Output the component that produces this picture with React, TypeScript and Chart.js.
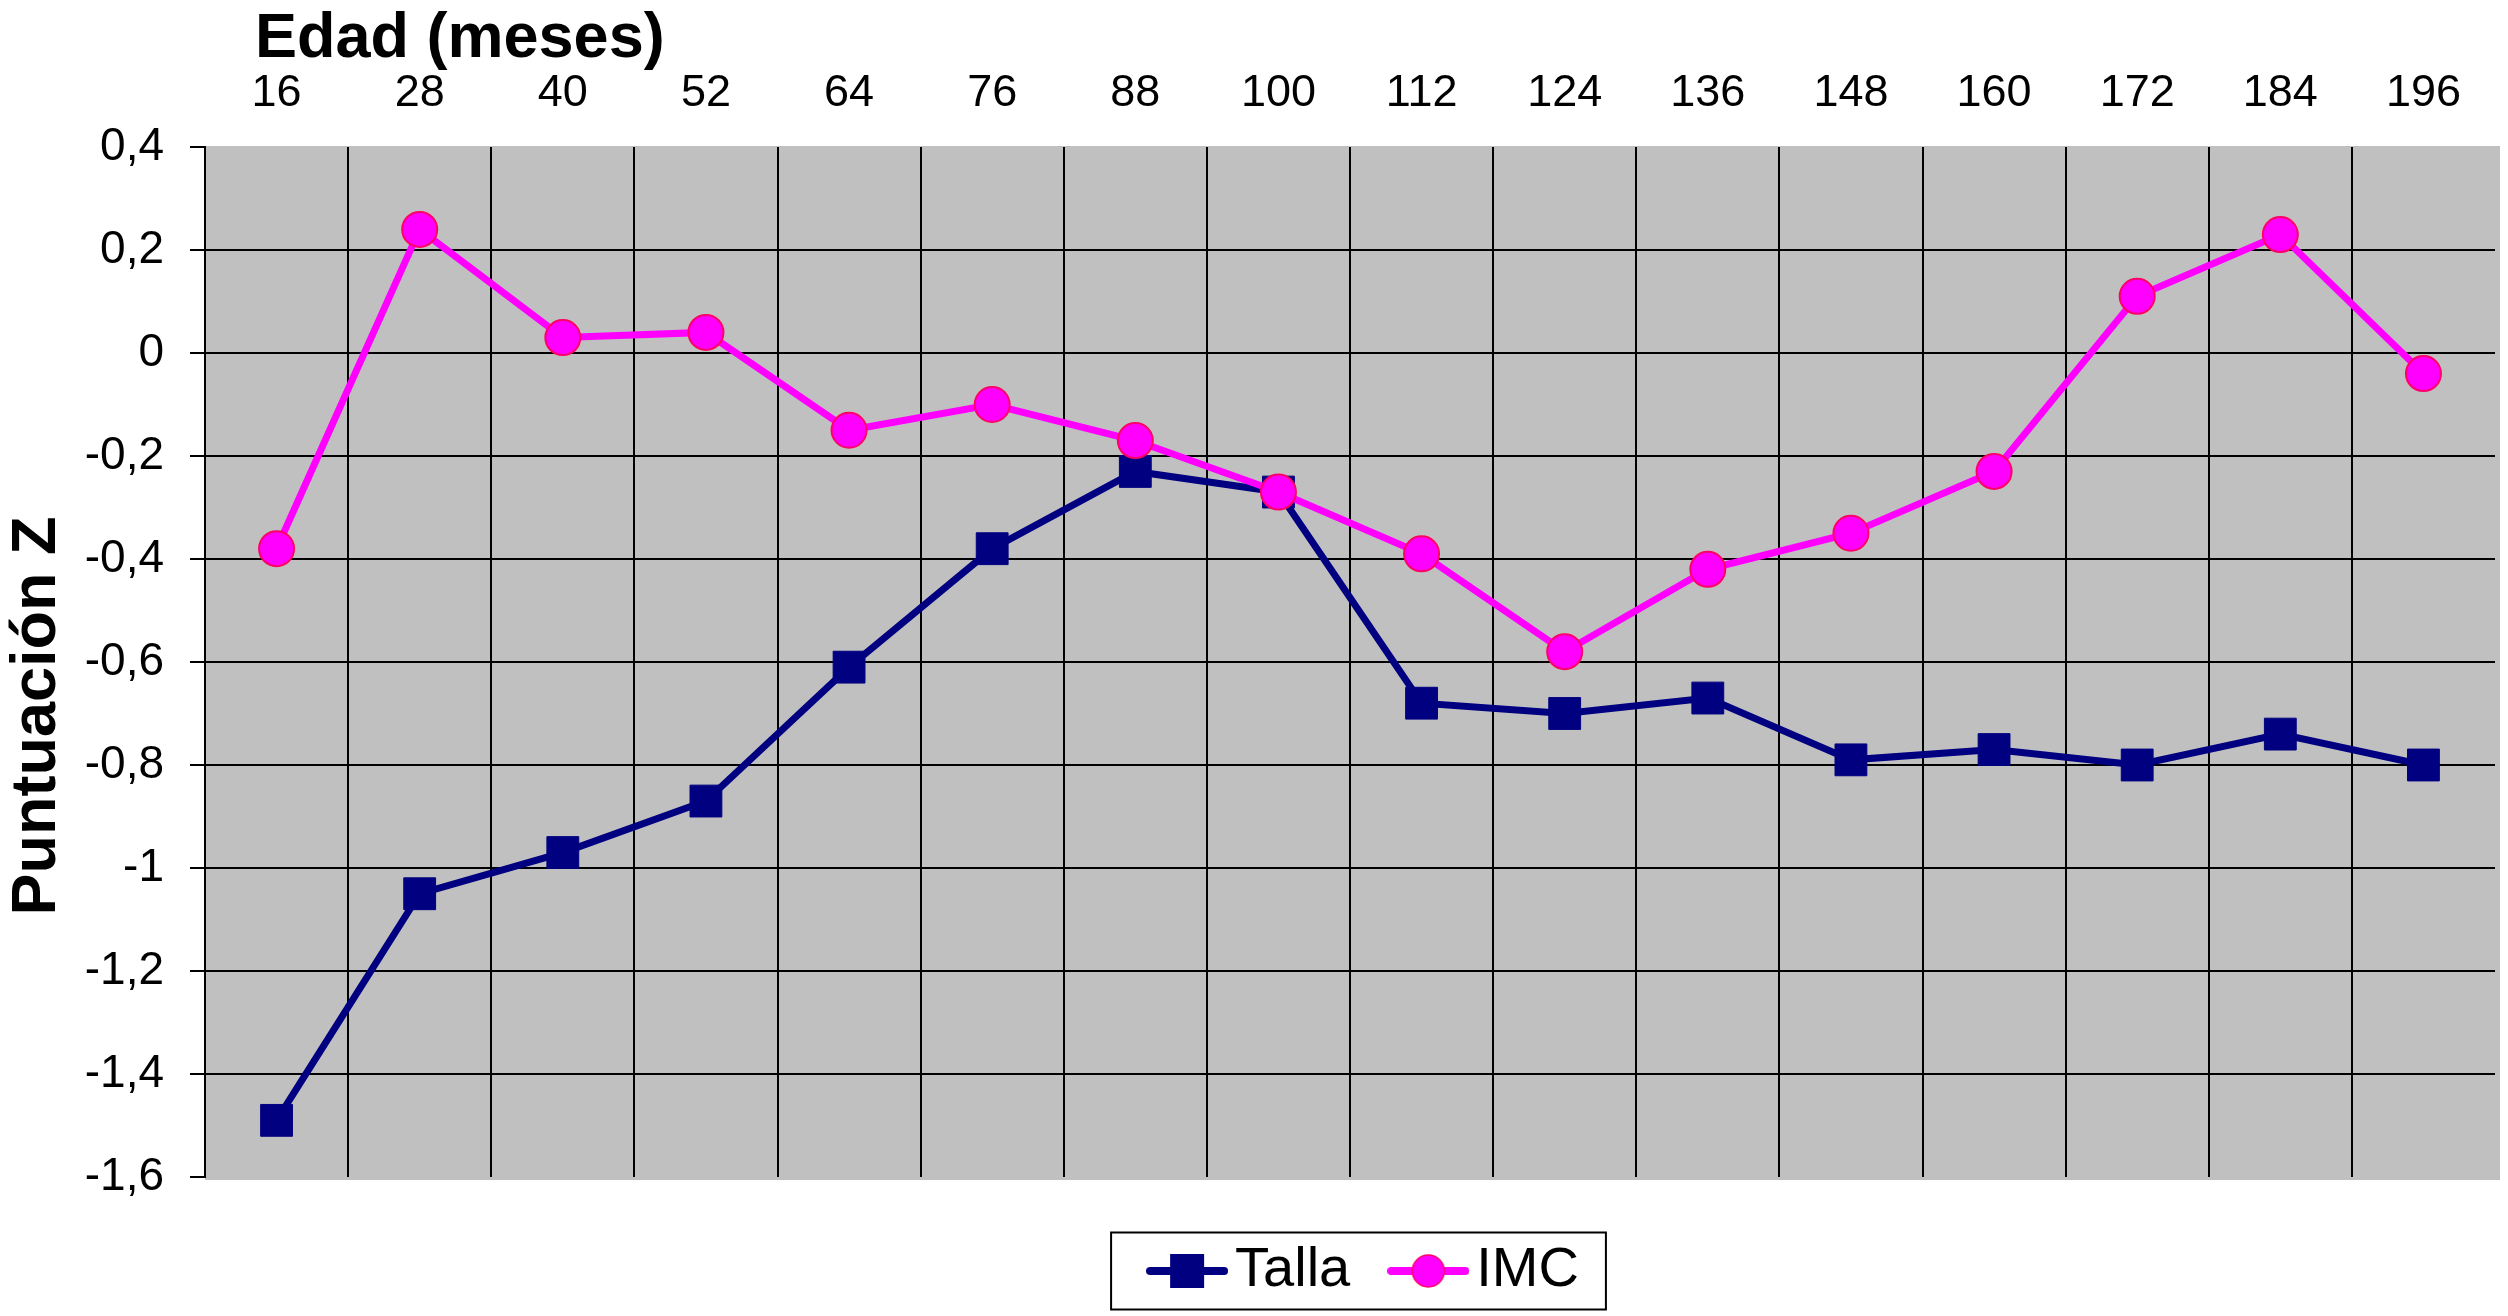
import React, { useEffect, useRef } from 'react';
import { Chart, registerables } from 'chart.js';

Chart.register(...registerables);

// ---- Data ----
const ageLabels = ['16', '28', '40', '52', '64', '76', '88', '100', '112', '124', '136', '148', '160', '172', '184', '196'];
const tallaValues = [-1.49, -1.05, -0.97, -0.87, -0.61, -0.38, -0.23, -0.27, -0.68, -0.7, -0.67, -0.79, -0.77, -0.8, -0.74, -0.8];
const imcValues = [-0.38, 0.24, 0.03, 0.04, -0.15, -0.1, -0.17, -0.27, -0.39, -0.58, -0.42, -0.35, -0.23, 0.11, 0.23, -0.04];
const yMin = -1.6;
const yMax = 0.4;
const yStep = 0.2;
const seriesNames = ['Talla', 'IMC'];
const xTitle = 'Edad (meses)';
const yTitle = 'Puntuación Z';

const FONT = '"Liberation Sans", Arial, Helvetica, sans-serif';
const NAVY = '#000080';
const MAGENTA = '#FF00FF';
const MAGENTA_EDGE = '#FF0066';
const LEGEND_SLOT = 40;
const LEGEND_SHIFT = 23;

function makeSymbol(kind: 'rect' | 'circle', lineColor: string, fill: string, edge: string) {
  const c = document.createElement('canvas');
  c.width = 82;
  c.height = 40;
  const g = c.getContext('2d')!;
  g.strokeStyle = lineColor;
  g.lineWidth = 8;
  g.lineCap = 'round';
  g.beginPath();
  g.moveTo(4, 20);
  g.lineTo(78, 20);
  g.stroke();
  g.fillStyle = fill;
  g.strokeStyle = edge;
  g.lineWidth = 1.5;
  if (kind === 'rect') {
    g.fillRect(24, 3, 34, 34);
  } else {
    g.beginPath();
    g.arc(41, 20, 16, 0, Math.PI * 2);
    g.fill();
    g.stroke();
  }
  return c;
}

const plotBackground = {
  id: 'plotBackground',
  beforeDraw(chart: any) {
    const { ctx, chartArea, width, height } = chart;
    ctx.save();
    ctx.fillStyle = '#FFFFFF';
    ctx.fillRect(0, 0, width, height);
    ctx.fillStyle = '#C0C0C0';
    ctx.fillRect(chartArea.left, chartArea.top - 1, chartArea.right - chartArea.left + 5, chartArea.bottom - chartArea.top + 4);
    ctx.restore();
  },
};

const axisTitles = {
  id: 'axisTitles',
  afterDraw(chart: any) {
    const { ctx, chartArea } = chart;
    ctx.save();
    ctx.font = `bold 63px ${FONT}`;
    ctx.fillStyle = '#000';
    ctx.textAlign = 'left';
    ctx.textBaseline = 'alphabetic';
    ctx.fillText(xTitle, chartArea.left + 50, 57);
    ctx.translate(55, (chartArea.top + chartArea.bottom) / 2 + 54);
    ctx.rotate(-Math.PI / 2);
    ctx.textAlign = 'center';
    ctx.fillText(yTitle, 0, 0);
    ctx.restore();
  },
};

const legendFrame = {
  id: 'legendFrame',
  afterLayout(chart: any) {
    const lg = chart.legend;
    if (lg) {
      lg.left += LEGEND_SHIFT;
      lg.right += LEGEND_SHIFT;
    }
  },
  afterDraw(chart: any) {
    const lg = chart.legend;
    const hb = lg && lg.legendHitBoxes;
    if (!hb || !hb.length) return;
    const first = hb[0];
    const last = hb[hb.length - 1];
    const symbolLeft = first.left + LEGEND_SLOT / 2 - 41;
    const left = symbolLeft - 35;
    const right = last.left + last.width + 27;
    const cy = first.top + first.height / 2;
    const { ctx } = chart;
    ctx.save();
    ctx.strokeStyle = '#000';
    ctx.lineWidth = 2;
    ctx.strokeRect(left, cy - 38.5, right - left, 77);
    ctx.restore();
  },
};

function formatTick(value: number) {
  const v = Math.round(Number(value) * 10) / 10;
  return (v === 0 ? '0' : String(v)).replace('.', ',');
}

export default function App() {
  const ref = useRef<HTMLCanvasElement>(null);

  useEffect(() => {
    if (!ref.current) return;
    const tallaSymbol = makeSymbol('rect', NAVY, NAVY, NAVY);
    const imcSymbol = makeSymbol('circle', MAGENTA, MAGENTA, MAGENTA_EDGE);

    const chart = new Chart(ref.current, {
      type: 'line',
      data: {
        labels: ageLabels,
        datasets: [
          {
            label: seriesNames[0],
            data: tallaValues,
            borderColor: NAVY,
            backgroundColor: NAVY,
            borderWidth: 7,
            pointStyle: 'rect',
            pointRadius: 22.5,
            pointBackgroundColor: NAVY,
            pointBorderColor: NAVY,
            pointBorderWidth: 1,
            tension: 0,
            order: 1,
          },
          {
            label: seriesNames[1],
            data: imcValues,
            borderColor: MAGENTA,
            backgroundColor: MAGENTA,
            borderWidth: 7,
            pointStyle: 'circle',
            pointRadius: 17.5,
            pointBackgroundColor: MAGENTA,
            pointBorderColor: MAGENTA_EDGE,
            pointBorderWidth: 2,
            tension: 0,
            order: 0,
          },
        ],
      },
      options: {
        responsive: false,
        maintainAspectRatio: false,
        devicePixelRatio: 1,
        animation: false,
        layout: { autoPadding: false, padding: { top: 0, left: 0, right: 13, bottom: 7 } },
        scales: {
          x: {
            type: 'category',
            position: 'top',
            offset: true,
            afterFit: (s: any) => {
              s.height = 147;
              s.paddingLeft = 0;
              s.paddingRight = 0;
            },
            grid: {
              offset: true,
              drawTicks: true,
              tickLength: 26,
              tickColor: 'rgba(0,0,0,0)',
              lineWidth: 2,
              color: (ctx: any) => (ctx.index === undefined || ctx.index === 0 ? 'rgba(0,0,0,0)' : '#000'),
            },
            border: { display: false },
            ticks: {
              color: '#000',
              font: { family: FONT, size: 45 },
              padding: 0,
              maxRotation: 0,
              autoSkip: false,
            },
          },
          y: {
            type: 'linear',
            min: yMin,
            max: yMax,
            afterFit: (s: any) => {
              s.width = 205;
            },
            grid: {
              lineWidth: 2,
              tickLength: 15,
              tickColor: '#000',
              color: (ctx: any) => {
                const v = ctx.tick ? ctx.tick.value : NaN;
                if (Math.abs(v - yMax) < 1e-6 || Math.abs(v - yMin) < 1e-6) return 'rgba(0,0,0,0)';
                return '#000';
              },
            },
            border: { display: true, color: '#000', width: 2 },
            ticks: {
              stepSize: yStep,
              color: '#000',
              font: { family: FONT, size: 46 },
              padding: 26,
              callback: (v: any) => formatTick(v),
            },
            title: { display: false },
          },
        },
        plugins: {
          tooltip: { enabled: false },
          title: { display: false },
          legend: {
            display: true,
            position: 'bottom',
            fullSize: false,
            align: 'center',
            title: { display: true, text: '', font: { size: 1, lineHeight: 1 }, padding: { top: 7, bottom: 0 } },
            labels: {
              usePointStyle: true,
              pointStyleWidth: LEGEND_SLOT,
              padding: 58,
              color: '#000',
              font: { family: FONT, size: 56 },
              generateLabels: () => [
                { text: seriesNames[0], pointStyle: tallaSymbol, fillStyle: NAVY, strokeStyle: NAVY, lineWidth: 0, hidden: false, datasetIndex: 0, fontColor: '#000' },
                { text: seriesNames[1], pointStyle: imcSymbol, fillStyle: MAGENTA, strokeStyle: MAGENTA, lineWidth: 0, hidden: false, datasetIndex: 1, fontColor: '#000' },
              ],
            },
          },
        },
      },
      plugins: [plotBackground, axisTitles, legendFrame],
    } as any);

    return () => chart.destroy();
  }, []);

  return (
    <div style={{ position: 'fixed', left: 0, top: 0, width: 2508, height: 1316, background: '#fff' }}>
      <canvas ref={ref} width={2508} height={1316} style={{ display: 'block', width: 2508, height: 1316 }} />
    </div>
  );
}
